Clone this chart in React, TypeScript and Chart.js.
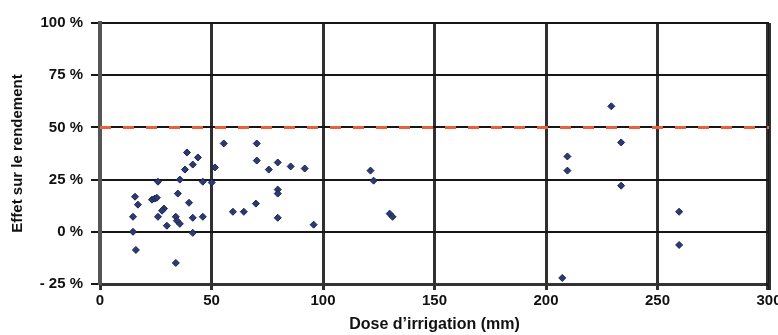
import React, { useEffect, useRef } from "react";
import { Chart, registerables } from "chart.js";

Chart.register(...registerables);

// Dose d'irrigation (mm)
const doseX: number[] = [
  15.7, 17.0, 23.3, 24.6, 25.5, 26.0, 28.7, 27.8, 14.8, 26.0,
  14.8, 16.1, 30.0, 34.0, 34.5, 35.8, 34.9, 39.9, 34.0, 35.8,
  39.0, 43.9, 41.6, 38.1, 51.5, 46.1, 50.1, 41.6, 46.1, 41.6,
  55.5, 70.3, 70.3, 75.7, 79.7, 85.5, 91.8, 79.7, 79.7, 69.9,
  59.6, 64.5, 79.7, 95.8, 121.3, 122.7, 129.9, 131.2, 229.3, 233.7,
  209.6, 209.6, 233.7, 259.7, 259.7, 207.3,
];
// Effet sur le rendement (%)
const effetY: number[] = [
  16.8, 13.0, 15.4, 15.9, 16.3, 24.0, 11.1, 10.1, 7.2, 7.2,
  0.0, -8.7, 2.9, 7.2, 5.3, 3.8, 18.3, 13.9, -14.9, 25.0,
  38.0, 35.6, 32.2, 29.8, 30.8, 24.0, 23.6, 6.7, 7.2, -0.5,
  42.3, 42.3, 34.1, 29.8, 33.2, 31.3, 30.3, 20.2, 18.3, 13.5,
  9.6, 9.6, 6.7, 3.4, 29.3, 24.5, 8.7, 7.2, 60.1, 42.8,
  36.1, 29.3, 22.1, 9.6, -6.3, -22.1,
];
const xTicks: number[] = [0, 50, 100, 150, 200, 250, 300];
const yTicks: number[] = [-25, 0, 25, 50, 75, 100];
const yTickLabels: string[] = ["- 25 %", "0 %", "25 %", "50 %", "75 %", "100 %"];
const seuil: number[] = [50, 50];
const seuilX: number[] = [0, 300];

export default function App() {
  const ref = useRef<HTMLCanvasElement | null>(null);
  useEffect(() => {
    document.body.style.margin = "0";
    const canvas = ref.current;
    if (!canvas) return;
    const family = "'Liberation Sans', Arial, sans-serif";
    const tickFont = { family, size: 15, weight: "bold" as const };
    const xTitleFont = { family, size: 16, weight: "bold" as const };
    const yTitleFont = { family, size: 15, weight: "bold" as const };
    const chart = new Chart(canvas, {
      type: "scatter",
      data: {
        datasets: [
          {
            type: "line",
            data: seuilX.map((x, i) => ({ x, y: seuil[i] })),
            borderColor: "#e8603c",
            borderWidth: 3,
            borderDash: [11, 12],
            pointRadius: 0,
            order: 1,
          } as any,
          {
            data: doseX.map((x, i) => ({ x, y: effetY[i] })),
            pointStyle: "rectRot",
            pointRadius: 3.5,
            backgroundColor: "#2b3a72",
            borderColor: "#1c2656",
            borderWidth: 1,
            order: 2,
          },
        ],
      },
      options: {
        animation: false,
        responsive: false,
        maintainAspectRatio: false,
        layout: { padding: { top: 23, right: 9, left: 0, bottom: 0 } },
        plugins: { legend: { display: false }, tooltip: { enabled: false } },
        scales: {
          x: {
            type: "linear",
            min: 0,
            max: 300,
            afterBuildTicks: (s: any) => {
              s.ticks = xTicks.map((v) => ({ value: v }));
            },
            afterFit: (s: any) => {
              s.height = 51;
              s.paddingLeft = 0;
              s.paddingRight = 0;
            },
            ticks: { color: "#111", font: tickFont, padding: 2, maxRotation: 0 },
            grid: { color: "rgba(25,25,25,0.9)", lineWidth: 3, tickLength: 6 },
            border: { color: "#333", width: 3 },
            title: {
              display: true,
              text: "Dose d\u2019irrigation (mm)",
              color: "#111",
              font: xTitleFont,
              padding: { top: 0, bottom: 1 },
            },
          },
          y: {
            type: "linear",
            min: -25,
            max: 100,
            afterBuildTicks: (s: any) => {
              s.ticks = yTicks.map((v) => ({ value: v }));
            },
            afterFit: (s: any) => {
              s.width = 100;
              s.paddingTop = 0;
              s.paddingBottom = 0;
            },
            ticks: {
              color: "#111",
              font: tickFont,
              padding: 8,
              callback: (v: any) => {
                const i = yTicks.indexOf(Number(v));
                return i >= 0 ? yTickLabels[i] : "";
              },
            },
            grid: { color: "#161616", lineWidth: 2, tickLength: 9 },
            border: { color: "#555", width: 4 },
            title: {
              display: true,
              text: "Effet sur le rendement",
              color: "#111",
              font: yTitleFont,
              padding: { top: 9, bottom: 0 },
            },
          },
        },
      },
      plugins: [
        {
          id: "bg",
          beforeDraw: (c: any) => {
            const ctx = c.ctx;
            ctx.save();
            ctx.fillStyle = "#fff";
            ctx.fillRect(0, 0, c.width, c.height);
            ctx.restore();
          },
        },
        {
          id: "rightEdge",
          beforeDatasetsDraw: (c: any) => {
            const xs = c.scales.x;
            const ys = c.scales.y;
            const px = xs.getPixelForValue(xTicks[xTicks.length - 1]);
            const ctx = c.ctx;
            ctx.save();
            ctx.strokeStyle = "rgba(25,25,25,0.9)";
            ctx.lineWidth = 3;
            ctx.beginPath();
            ctx.moveTo(px - 1.5, ys.top);
            ctx.lineTo(px - 1.5, ys.bottom + 6);
            ctx.stroke();
            ctx.restore();
          },
        },
      ],
    });
    return () => chart.destroy();
  }, []);
  return <canvas ref={ref} width={778} height={335} style={{ display: "block" }} />;
}
